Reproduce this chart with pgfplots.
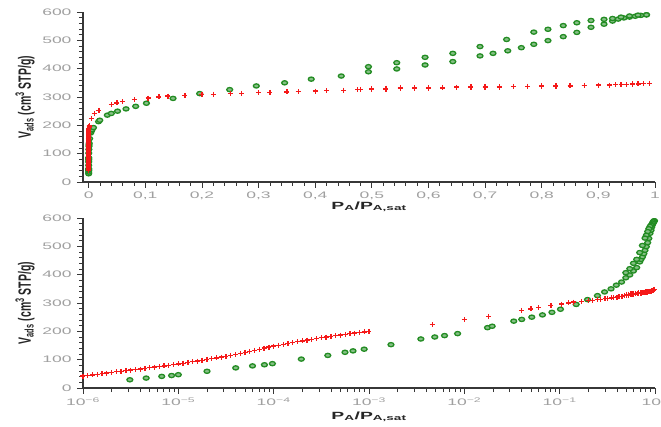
\documentclass[border=0pt]{standalone}
\usepackage{fontspec}
\usepackage{pgfplots}
\pgfplotsset{compat=1.18}
\usepackage{pgfplotstable}

\newfontfamily\widesans{Liberation Sans}[FakeStretch=1.85]
\newfontfamily\plainsans{Liberation Sans}

\definecolor{isored}{RGB}{245,25,25}
\definecolor{isogreen}{RGB}{35,140,35}
\definecolor{tickgray}{RGB}{160,160,160}
\definecolor{axisgray}{RGB}{55,55,55}

% Argon-type isotherms: volume adsorbed vs relative pressure
% red: microporous sample, green: sample with mesopores (hysteresis)
\pgfplotstableread{
p        v
1.000e-6 42
1.122e-6 44
1.259e-6 46
1.413e-6 48
1.585e-6 50
1.778e-6 52.5
1.995e-6 55
2.239e-6 57
2.512e-6 59
2.818e-6 61
3.162e-6 63
3.548e-6 65
3.981e-6 67
4.467e-6 69.5
5.012e-6 72
5.623e-6 74
6.310e-6 76
7.079e-6 78
7.943e-6 80
8.913e-6 82.5
1.000e-5 85
1.122e-5 87.5
1.259e-5 90
1.413e-5 92.5
1.585e-5 95
1.778e-5 98
1.995e-5 101
2.239e-5 103.5
2.512e-5 106
2.818e-5 109
3.162e-5 112
3.548e-5 115.5
3.981e-5 119
4.467e-5 122.5
5.012e-5 126
5.623e-5 129.5
6.310e-5 133
7.079e-5 137
7.943e-5 141
8.913e-5 144.5
1.000e-4 148
1.122e-4 151
1.259e-4 154
1.413e-4 157
1.585e-4 160
1.778e-4 163
1.995e-4 166
2.239e-4 169
2.512e-4 172
2.818e-4 174.5
3.162e-4 177
3.548e-4 179.5
3.981e-4 182
4.467e-4 184.5
5.012e-4 187
5.623e-4 189.5
6.310e-4 192
7.079e-4 194
7.943e-4 196
8.913e-4 198
1.000e-3 200
0.0046 223
0.0100 241
0.0180 253
0.040 274
0.050 279
0.060 284
0.081 290
0.105 296
0.124 300
0.140 303
0.170 306
0.200 309
0.220 310
0.250 312
0.270 313
0.300 315
0.320 316
0.350 318
0.370 319
0.400 321
0.420 322
0.450 324
0.475 326
0.500 327
0.525 328
0.550 329
0.575 330
0.600 331
0.625 332
0.650 333
0.675 333.5
0.700 334
0.725 335
0.750 336
0.775 336.5
0.800 337
0.825 338
0.850 339
0.875 340
0.900 341
0.920 342
0.940 343
0.950 344
0.960 345
0.970 346
0.980 347
0.990 348
}\redads

\pgfplotstableread{
p      v
0.990 348
0.960 346
0.930 344
0.900 342
0.875 341
0.850 340
0.825 339.5
0.800 339
0.775 338
0.750 337.5
0.725 337
0.700 336
0.675 335.5
0.650 335
0.625 334
0.600 333.5
0.575 333
0.550 332
0.525 331
0.500 330
0.480 327
}\reddes

\pgfplotstableread{
p       v
3.1e-6  29
4.6e-6  35
6.7e-6  41
8.5e-6  44
1.0e-5  47
2.0e-5  59
4.0e-5  71
6.0e-5  78
8.0e-5  82
9.7e-5  86
1.95e-4 102
3.7e-4  115
5.6e-4  126
6.8e-4  131
8.9e-4  137
1.7e-3  153
3.5e-3  173
4.9e-3  180
6.2e-3  185
8.5e-3  192
0.0175  213
0.0196  218
0.033   236
0.040   242
0.051   250
0.066   258
0.083   267
0.102   278
0.149   295
0.196   312
0.249   326
0.296   339
0.346   350
0.393   363
0.446   374
0.494   389
0.544   399
0.594   413
0.643   425
0.691   445
0.714   454
0.740   463
0.764   474
0.786   486
0.811   499
0.838   513
0.862   528
0.887   546
0.910   557
0.925   568
0.935   575
0.945   579
0.955   582
0.965   585
0.975   588
0.985   590
}\greenads

\pgfplotstableread{
p      v
0.985  590
0.970  589
0.955  586
0.940  582
0.925  577
0.910  574
0.887  570
0.862  562
0.838  552
0.811  539
0.786  529
0.738  503
0.691  478
0.643  454
0.594  440
0.544  421
0.494  407
}\greendes

\pgfplotsset{
  iso/.style={
    scale only axis,
    width=572bp, height=170bp,
    anchor=south west,
    axis x line*=bottom, axis y line*=left,
    axis line style={axisgray, line width=1.1bp},
    tick style={axisgray, line width=0.7bp},
    tick align=outside,
    major tick length=6bp, minor tick length=4bp,
    ymin=0, ymax=600,
    ytick={0,100,200,300,400,500,600},
    yticklabels={0,100,200,300,400,500,600},
    minor y tick num=4,
    ticklabel style={font=\widesans\fontsize{9.5}{10}\selectfont, text=tickgray},
    yticklabel style={xshift=-2bp},
    ylabel={\scalebox{1}[1.7]{\plainsans\bfseries\fontsize{10.5}{12}\selectfont
      V\textsubscript{ads} (cm\textsuperscript{3} STP/g)}},
    % the label node is rotated, so yshift moves it to the left
    ylabel style={at={(axis description cs:0,0.5)}, anchor=center,
      yshift=58bp, text=black!85},
    xlabel={\widesans\bfseries\fontsize{10.5}{12}\selectfont
      P\textsubscript{A}/P\textsubscript{A,sat}},
    xlabel style={at={(axis description cs:0.5,0)}, anchor=north, text=black!85},
    clip=false,
  },
  redmark/.style={only marks, mark=+, mark size=2.5bp,
    mark options={draw=isored, line width=1.3bp}},
  greenmark/.style={only marks, mark=*, mark size=2.1bp,
    mark options={draw=isogreen, fill=isogreen!55, line width=1.3bp, xscale=1.4}},
}

\begin{document}
\begin{tikzpicture}
\path[use as bounding box] (0,0) rectangle (661bp,427bp);

% linear pressure scale
\begin{axis}[iso,
  at={(83bp,245bp)},
  xmin=-0.01, xmax=1,
  xtick={0,0.1,0.2,0.3,0.4,0.5,0.6,0.7,0.8,0.9,1},
  xticklabels={0,{0,1},{0,2},{0,3},{0,4},{0,5},{0,6},{0,7},{0,8},{0,9},1},
  minor x tick num=4,
  xlabel style={yshift=-16bp},
]
\addplot[greenmark] table[x=p, y=v] {\greenads};
\addplot[greenmark] table[x=p, y=v] {\greendes};
\addplot[redmark] table[x=p, y=v] {\redads};
\addplot[redmark] table[x=p, y=v] {\reddes};
\end{axis}

% logarithmic pressure scale
\begin{axis}[iso,
  at={(83bp,39bp)},
  xmode=log, log basis x=10,
  xmin=1e-6, xmax=1,
  xtick={1e-6,1e-5,1e-4,1e-3,1e-2,1e-1,1},
  minor xtick={2e-6,3e-6,4e-6,5e-6,6e-6,7e-6,8e-6,9e-6,
    2e-5,3e-5,4e-5,5e-5,6e-5,7e-5,8e-5,9e-5,
    2e-4,3e-4,4e-4,5e-4,6e-4,7e-4,8e-4,9e-4,
    2e-3,3e-3,4e-3,5e-3,6e-3,7e-3,8e-3,9e-3,
    2e-2,3e-2,4e-2,5e-2,6e-2,7e-2,8e-2,9e-2,
    0.2,0.3,0.4,0.5,0.6,0.7,0.8,0.9},
  xticklabels={10\textsuperscript{−6},10\textsuperscript{−5},10\textsuperscript{−4},
    10\textsuperscript{−3},10\textsuperscript{−2},10\textsuperscript{−1},10\textsuperscript{0}},
  xlabel style={yshift=-20bp},
]
\addplot[greenmark] table[x=p, y=v] {\greenads};
\addplot[greenmark] table[x=p, y=v] {\greendes};
\addplot[redmark] table[x=p, y=v] {\redads};
\addplot[redmark] table[x=p, y=v] {\reddes};
\end{axis}
\end{tikzpicture}
\end{document}
